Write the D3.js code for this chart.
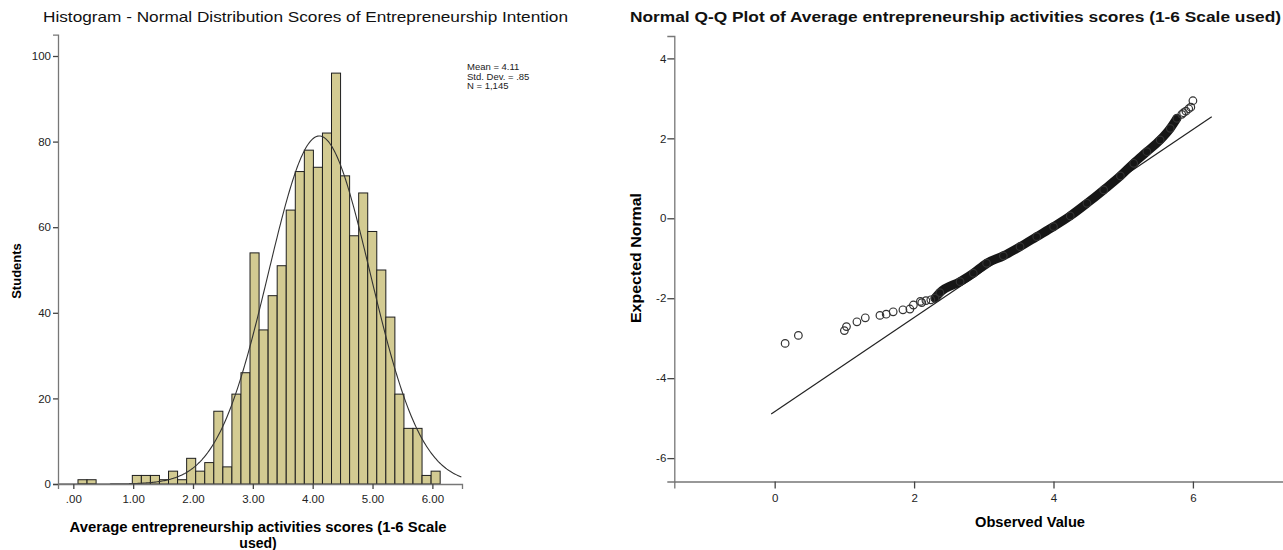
<!DOCTYPE html>
<html>
<head>
<meta charset="utf-8">
<script src="https://cdn.jsdelivr.net/npm/d3@7"></script>
<style>
  body { margin: 0; background: #fff; }
  text { font-family: "Liberation Sans", Arial, sans-serif; }
</style>
</head>
<body>
<div class="charts"></div>
<script>
// histogram counts, one per bin (bins of equal width starting at binStart)
var histCounts = [1, 1, 0, 0, 0, 0, 2, 2, 2, 1, 3, 1, 6, 3, 5, 17, 4, 21, 26, 54,
                  36, 44, 51, 64, 73, 78, 74, 82, 96, 72, 58, 68, 59, 50, 39, 21, 13, 13, 2, 3];
var binStart = 0.078;
var binWidth = 0.1513;
var histXTicks = [0, 1, 2, 3, 4, 5, 6];
var histYTicks = [0, 20, 40, 60, 80, 100];
var stats = { mean: 4.11, sd: 0.85, n: 1145 };
var statLines = ["Mean = 4.11", "Std. Dev. = .85", "N = 1,145"];

var qqObserved = [0.15, 0.34, 1.00, 1.03, 1.18, 1.30, 1.51, 1.60, 1.70, 1.84, 1.94, 1.99,
                  2.09, 2.11, 2.17, 2.24, 2.30, 2.37, 2.66, 2.85, 3.04, 3.28, 3.52, 3.76,
                  4.00, 4.24, 4.48, 4.72, 4.96, 5.15, 5.34, 5.53, 5.675, 5.77, 5.84, 5.865,
                  5.90, 5.94, 5.97, 6.00];
var qqExpected = [-3.13, -2.93, -2.81, -2.71, -2.59, -2.49, -2.43, -2.40, -2.34, -2.29, -2.27, -2.17,
                  -2.08, -2.11, -2.06, -2.04, -2.00, -1.86, -1.585, -1.375, -1.125, -0.94, -0.71, -0.46,
                  -0.21, 0.06, 0.375, 0.71, 1.06, 1.375, 1.665, 1.96, 2.25, 2.50, 2.60, 2.64,
                  2.68, 2.74, 2.78, 2.94];
var qqXTicks = [0, 2, 4, 6];
var qqYTicks = [-6, -4, -2, 0, 2, 4];
var qqLineRange = [-0.05, 6.27];
var bandRange = [2.3, 5.78];

var svg = d3.select(".charts").append("svg")
  .attr("width", 1283)
  .attr("height", 550);

function styleAxis(g) {
  g.selectAll(".domain").attr("stroke", "#777").attr("stroke-width", 1.3);
  g.selectAll(".tick line").attr("stroke", "#444").attr("stroke-width", 1.3);
  g.selectAll(".tick text")
    .attr("fill", "#222")
    .style("font-size", "11.5px")
    .style("font-family", "'Liberation Sans', Arial, sans-serif");
}

// ---------------- histogram ----------------
var xL = d3.scaleLinear().domain([-0.256, 6.495]).range([58, 462]);
var yL = d3.scaleLinear().domain([0, 105]).range([484, 34.6]);

var bins = histCounts.map(function(c, i) {
  return { x0: binStart + i * binWidth, x1: binStart + (i + 1) * binWidth, count: c };
});

svg.append("g")
  .selectAll("rect")
  .data(bins.filter(d => d.count > 0))
  .enter()
  .append("rect")
  .attr("x", d => xL(d.x0))
  .attr("y", d => yL(d.count))
  .attr("width", d => xL(d.x1) - xL(d.x0))
  .attr("height", d => yL(0) - yL(d.count))
  .attr("fill", "#d3cb92")
  .attr("stroke", "#1e1e1e")
  .attr("stroke-width", 1);

// fitted normal curve
var scaleCount = stats.n * binWidth;
var curvePts = d3.range(xL.domain()[0], xL.domain()[1] + 0.001, 0.02).map(function(x) {
  var z = (x - stats.mean) / stats.sd;
  return [x, scaleCount * Math.exp(-0.5 * z * z) / (stats.sd * Math.sqrt(2 * Math.PI))];
});

svg.append("path")
  .datum(curvePts)
  .attr("d", d3.line().x(d => xL(d[0])).y(d => yL(d[1])))
  .attr("fill", "none")
  .attr("stroke", "#333")
  .attr("stroke-width", 1.1);

var gxL = svg.append("g")
  .attr("transform", "translate(0,484)")
  .call(d3.axisBottom(xL).tickValues(histXTicks).tickSizeOuter(0).tickSize(5)
    .tickFormat(d => d === 0 ? ".00" : d3.format(".2f")(d)));
styleAxis(gxL);
gxL.selectAll(".tick text").attr("dy", "0.95em");

var gyL = svg.append("g")
  .attr("transform", "translate(58,0)")
  .call(d3.axisLeft(yL).tickValues(histYTicks).tickSizeOuter(0).tickSize(5));
styleAxis(gyL);
gyL.selectAll(".tick text").attr("x", -7);

svg.append("text")
  .attr("x", 43)
  .attr("y", 22)
  .attr("textLength", 525)
  .attr("lengthAdjust", "spacingAndGlyphs")
  .style("font-size", "15px")
  .attr("fill", "#111")
  .text("Histogram - Normal Distribution Scores of Entrepreneurship Intention");

svg.append("g")
  .selectAll("text")
  .data(statLines)
  .enter()
  .append("text")
  .attr("x", 467)
  .attr("y", (d, i) => 70 + i * 9.6)
  .style("font-size", "9.5px")
  .attr("fill", "#222")
  .text(d => d);

svg.append("text")
  .attr("transform", "translate(21,271) rotate(-90)")
  .attr("text-anchor", "middle")
  .style("font-size", "13px")
  .style("font-weight", "bold")
  .text("Students");

svg.append("text")
  .attr("x", 258)
  .attr("y", 532)
  .attr("text-anchor", "middle")
  .attr("textLength", 377)
  .attr("lengthAdjust", "spacingAndGlyphs")
  .style("font-size", "14px")
  .style("font-weight", "bold")
  .text("Average entrepreneurship activities scores (1-6 Scale");

svg.append("text")
  .attr("x", 258)
  .attr("y", 548)
  .attr("text-anchor", "middle")
  .style("font-size", "14px")
  .style("font-weight", "bold")
  .text("used)");

// ---------------- Q-Q plot ----------------
var xR = d3.scaleLinear().domain([-1.44, 8.77]).range([674.3, 1386]);
var yR = d3.scaleLinear().domain([-6.585, 4.56]).range([481.5, 36]);

var gxR = svg.append("g")
  .attr("transform", "translate(0,481.5)")
  .call(d3.axisBottom(xR).tickValues(qqXTicks).tickSizeOuter(0).tickSize(7));
styleAxis(gxR);
gxR.selectAll(".tick text").attr("dy", "0.9em");

var gyR = svg.append("g")
  .attr("transform", "translate(674.3,0)")
  .call(d3.axisLeft(yR).tickValues(qqYTicks).tickSizeOuter(0).tickSize(7)
    .tickFormat(d => String(d)));
styleAxis(gyR);
gyR.selectAll(".tick text").attr("x", -8);

// reference line
svg.append("path")
  .datum(qqLineRange)
  .attr("d", d3.line().x(d => xR(d)).y(d => yR((d - stats.mean) / stats.sd)))
  .attr("stroke", "#222")
  .attr("stroke-width", 1.2);

var qq = qqObserved.map((d, i) => ({ x: d, y: qqExpected[i] }));

// overlapping markers form a solid band in the dense middle
svg.append("path")
  .datum(qq.filter(d => d.x >= bandRange[0] && d.x <= bandRange[1]))
  .attr("d", d3.line().x(d => xR(d.x)).y(d => yR(d.y)).curve(d3.curveMonotoneX))
  .attr("fill", "none")
  .attr("stroke", "#161616")
  .attr("stroke-width", 9)
  .attr("stroke-linecap", "round");

svg.append("g")
  .selectAll("circle")
  .data(qq)
  .enter()
  .append("circle")
  .attr("cx", d => xR(d.x))
  .attr("cy", d => yR(d.y))
  .attr("r", 3.8)
  .attr("fill", "none")
  .attr("stroke", "#333")
  .attr("stroke-width", 1.2);

svg.append("text")
  .attr("x", 630)
  .attr("y", 22)
  .attr("textLength", 651)
  .attr("lengthAdjust", "spacingAndGlyphs")
  .style("font-size", "14.5px")
  .style("font-weight", "bold")
  .attr("fill", "#111")
  .text("Normal Q-Q Plot of Average entrepreneurship activities scores (1-6 Scale used)");

svg.append("text")
  .attr("transform", "translate(641,258) rotate(-90)")
  .attr("text-anchor", "middle")
  .attr("textLength", 130)
  .attr("lengthAdjust", "spacingAndGlyphs")
  .style("font-size", "14px")
  .style("font-weight", "bold")
  .text("Expected Normal");

svg.append("text")
  .attr("x", 1030)
  .attr("y", 527)
  .attr("text-anchor", "middle")
  .attr("textLength", 110)
  .attr("lengthAdjust", "spacingAndGlyphs")
  .style("font-size", "14px")
  .style("font-weight", "bold")
  .text("Observed Value");
</script>
</body>
</html>
